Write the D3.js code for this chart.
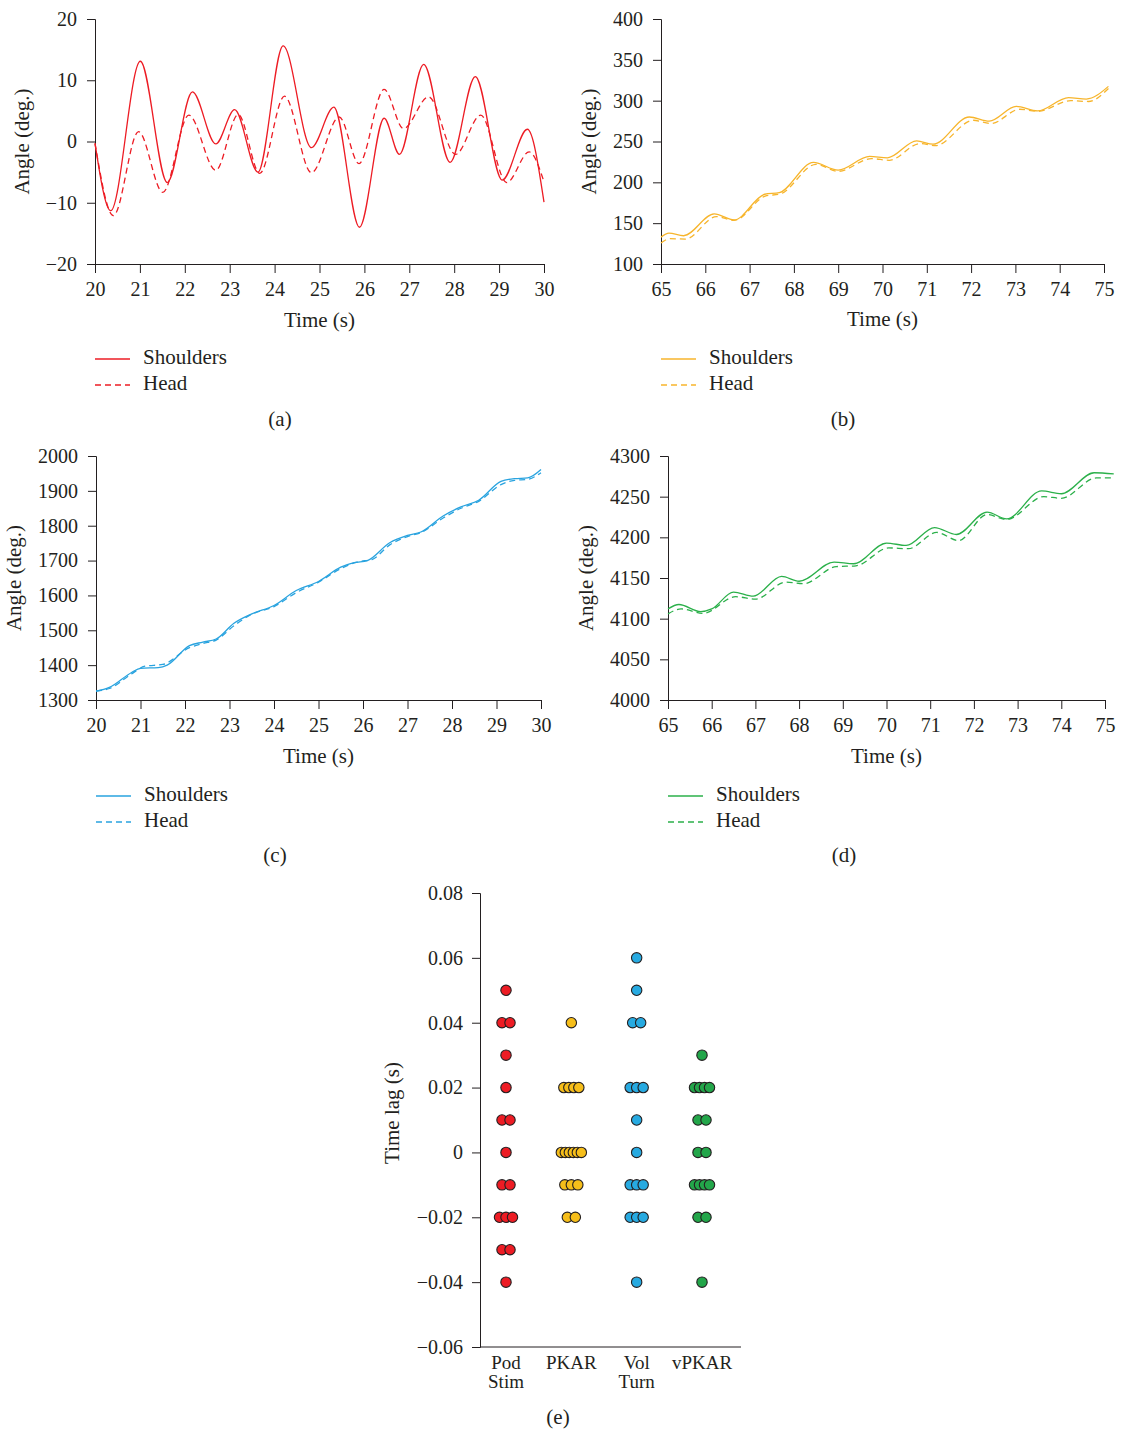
<!DOCTYPE html>
<html>
<head>
<meta charset="utf-8">
<script src="https://cdn.jsdelivr.net/npm/d3@7"></script>
<style>
  body { margin: 0; background: #fff; }
  svg { display: block; font-family: "Liberation Serif", "DejaVu Serif", serif; }
  .label { font-size: 21px; fill: #231f20; }
</style>
</head>
<body>
<svg id="chart" width="1125" height="1433"></svg>
<script>
// ---- panel (a): relative rotation, 20-30 s ----
const aShoulderT = [20, 20.35, 21.01, 21.61, 22.17, 22.69, 23.11, 23.63, 24.19, 24.82, 25.32, 25.89, 26.44, 26.78, 27.32, 27.91, 28.47, 29.07, 29.63, 30];
const aShoulderV = [-0.3, -11.3, 13.1, -6.7, 8.1, -0.4, 5.2, -5.0, 15.6, -1.0, 5.6, -14.0, 3.8, -2.1, 12.6, -3.4, 10.6, -6.3, 2.0, -9.9];
const aHeadT = [20, 20.41, 20.97, 21.51, 22.09, 22.69, 23.19, 23.67, 24.22, 24.82, 25.44, 25.88, 26.44, 26.87, 27.43, 28.03, 28.59, 29.17, 29.67, 30];
const aHeadV = [-0.3, -12.1, 1.6, -8.3, 4.3, -4.7, 4.4, -5.2, 7.4, -5.1, 4.0, -3.6, 8.5, 2.1, 7.3, -2.1, 4.3, -6.7, -1.7, -6.6];

// ---- panel (b): 65-75 s ----
const bShoulderT = [65, 65.18, 65.51, 66.2, 66.65, 67.34, 67.67, 68.44, 69.0, 69.71, 70.11, 70.77, 71.14, 71.96, 72.41, 73.02, 73.5, 74.2, 74.6, 75.1];
const bShoulderV = [132.9, 137.8, 134.6, 161.4, 154, 185.4, 187.4, 224.4, 215, 231.7, 230, 250.8, 246.7, 280, 275, 293, 287.4, 303.7, 302, 317.5];
const bHeadT = [65, 65.2, 65.55, 66.25, 66.65, 67.35, 67.7, 68.5, 69.0, 69.75, 70.15, 70.85, 71.2, 72.05, 72.45, 73.1, 73.5, 74.25, 74.65, 75.1];
const bHeadV = [125.6, 131, 130.5, 158, 153.5, 183, 186, 222, 213.5, 229, 227, 247.5, 245, 276, 272, 289.5, 287, 300, 299, 315];

// ---- panel (c): 20-30 s ----
const cShoulderT = [20, 20.3, 20.8, 21.0, 21.4, 21.6, 22.1, 22.4, 22.7, 23.1, 23.5, 24.0, 24.5, 25.0, 25.5, 25.8, 26.1, 26.6, 27.0, 27.3, 27.8, 28.2, 28.6, 29.1, 29.4, 29.7, 30];
const cShoulderV = [1325, 1336, 1379, 1391, 1393, 1400, 1456, 1466, 1475, 1520, 1547, 1571, 1614, 1640, 1681, 1694, 1700, 1751, 1772, 1782, 1828, 1854, 1873, 1927, 1935, 1937, 1961];
const cHeadT = [20, 20.3, 20.8, 21.1, 21.5, 22.1, 22.4, 22.7, 23.1, 23.5, 24.0, 24.5, 25.0, 25.5, 25.9, 26.2, 26.6, 27.0, 27.3, 27.8, 28.2, 28.6, 29.1, 29.4, 29.7, 30];
const cHeadV = [1326, 1333, 1375, 1397, 1402, 1450, 1462, 1472, 1513, 1546, 1568, 1608, 1638, 1677, 1697, 1703, 1745, 1769, 1780, 1822, 1850, 1870, 1918, 1930, 1933, 1952];

// ---- panel (d): 65-75 s ----
const dShoulderT = [65, 65.25, 65.75, 66.0, 66.5, 66.95, 67.6, 68.0, 68.8, 69.25, 70.0, 70.45, 71.1, 71.6, 72.3, 72.75, 73.55, 74.0, 74.75, 75.2];
const dShoulderV = [4112, 4117.4, 4108.7, 4112, 4132.6, 4127.6, 4152, 4146, 4169.6, 4167.5, 4193, 4190, 4212, 4203.5, 4231, 4222.8, 4257, 4253.6, 4279.4, 4278];
const dHeadT = [65, 65.3, 65.8, 66.55, 67.0, 67.7, 68.1, 68.85, 69.3, 70.05, 70.5, 71.15, 71.65, 72.3, 72.75, 73.6, 74.0, 74.8, 75.2];
const dHeadV = [4105.9, 4112, 4106.5, 4127, 4124, 4145, 4143, 4164, 4165, 4187, 4186, 4206, 4196, 4228, 4222, 4250, 4248, 4273, 4273];

const legendNames = ["Shoulders", "Head"];

// ---- panel (e): time lag per condition ----
const lagCategories = ["Pod Stim", "PKAR", "Vol Turn", "vPKAR"];
const lagPodStim = [0.05, 0.04, 0.04, 0.03, 0.02, 0.01, 0.01, 0, -0.01, -0.01, -0.02, -0.02, -0.02, -0.03, -0.03, -0.04];
const lagPkar = [0.04, 0.02, 0.02, 0.02, 0.02, 0, 0, 0, 0, 0, 0, -0.01, -0.01, -0.01, -0.02, -0.02];
const lagVolTurn = [0.06, 0.05, 0.04, 0.04, 0.02, 0.02, 0.02, 0.01, 0, -0.01, -0.01, -0.01, -0.02, -0.02, -0.02, -0.04];
const lagVpkar = [0.03, 0.02, 0.02, 0.02, 0.02, 0.01, 0.01, 0, 0, -0.01, -0.01, -0.01, -0.01, -0.02, -0.02, -0.04];
const lagTicks = [0.08, 0.06, 0.04, 0.02, 0, -0.02, -0.04, -0.06];

const svg = d3.select("#chart");
const ink = "#231f20";

const zip = (t, v) => t.map((x, i) => ({ x: x, y: v[i] }));

const panels = [
  { tag: "(a)", color: "#ed1c24", left: 95, right: 544, top: 19, bottom: 264,
    xDomain: [20, 30], yDomain: [-20, 20], yTicks: [-20, -10, 0, 10, 20],
    shoulders: zip(aShoulderT, aShoulderV), head: zip(aHeadT, aHeadV),
    ylabX: 24, xlabY: 322, legY: 359, tagX: 280, tagY: 421 },
  { tag: "(b)", color: "#f7b52c", left: 661, right: 1104, top: 19, bottom: 264,
    xDomain: [65, 75], yDomain: [100, 400], yTicks: d3.range(100, 401, 50),
    shoulders: zip(bShoulderT, bShoulderV), head: zip(bHeadT, bHeadV),
    ylabX: 591, xlabY: 321, legY: 359, tagX: 843, tagY: 421 },
  { tag: "(c)", color: "#29a3df", left: 96, right: 541, top: 456, bottom: 700,
    xDomain: [20, 30], yDomain: [1300, 2000], yTicks: d3.range(1300, 2001, 100),
    shoulders: zip(cShoulderT, cShoulderV), head: zip(cHeadT, cHeadV),
    ylabX: 16, xlabY: 758, legY: 796, tagX: 275, tagY: 857 },
  { tag: "(d)", color: "#2bb04a", left: 668, right: 1105, top: 456, bottom: 700,
    xDomain: [65, 75], yDomain: [4000, 4300], yTicks: d3.range(4000, 4301, 50),
    shoulders: zip(dShoulderT, dShoulderV), head: zip(dHeadT, dHeadV),
    ylabX: 588, xlabY: 758, legY: 796, tagX: 844, tagY: 857 }
];

function styleAxis(g) {
  g.attr("font-family", null).attr("font-size", null);
  g.selectAll("path, line").attr("stroke", ink).attr("stroke-width", 1);
  g.selectAll("text").attr("fill", ink).style("font-size", "20px");
}

panels.forEach(p => {
  const x = d3.scaleLinear().domain(p.xDomain).range([p.left, p.right]);
  const y = d3.scaleLinear().domain(p.yDomain).range([p.bottom, p.top]);
  const g = svg.append("g");

  g.append("g")
    .attr("transform", `translate(0,${p.bottom})`)
    .call(d3.axisBottom(x).tickValues(d3.range(p.xDomain[0], p.xDomain[1] + 1)).tickSizeOuter(0).tickSize(9).tickPadding(9).tickFormat(d3.format("d")))
    .call(styleAxis);

  g.append("g")
    .attr("transform", `translate(${p.left},0)`)
    .call(d3.axisLeft(y).tickValues(p.yTicks).tickSizeOuter(0).tickSize(8).tickPadding(10).tickFormat(d3.format("d")))
    .call(styleAxis);

  const line = d3.line().curve(d3.curveMonotoneX).x(d => x(d.x)).y(d => y(d.y));

  g.append("path").datum(p.shoulders)
    .attr("fill", "none").attr("stroke", p.color).attr("stroke-width", 1.3).attr("d", line);
  g.append("path").datum(p.head)
    .attr("fill", "none").attr("stroke", p.color).attr("stroke-width", 1.3)
    .attr("stroke-dasharray", "6,4").attr("d", line);

  g.append("text").attr("class", "label")
    .attr("transform", `translate(${p.ylabX},${(p.top + p.bottom) / 2}) rotate(-90)`)
    .attr("text-anchor", "middle").attr("dominant-baseline", "middle")
    .text("Angle (deg.)");

  g.append("text").attr("class", "label")
    .attr("x", (p.left + p.right) / 2).attr("y", p.xlabY)
    .attr("text-anchor", "middle").attr("dominant-baseline", "middle")
    .text("Time (s)");

  legendNames.forEach((name, i) => {
    const ly = p.legY + i * 26;
    g.append("line")
      .attr("x1", p.left).attr("x2", p.left + 35).attr("y1", ly).attr("y2", ly)
      .attr("stroke", p.color).attr("stroke-width", 1.3)
      .attr("stroke-dasharray", i === 1 ? "6,4" : null);
    g.append("text").attr("class", "label")
      .attr("x", p.left + 48).attr("y", ly)
      .attr("dominant-baseline", "middle")
      .text(name);
  });

  g.append("text").attr("class", "label")
    .attr("x", p.tagX).attr("y", p.tagY)
    .attr("text-anchor", "middle").attr("dominant-baseline", "middle")
    .text(p.tag);
});

// ---- panel (e) ----
const eLeft = 480, eRight = 741, eTop = 893, eBottom = 1347;
const lagGroups = [lagPodStim, lagPkar, lagVolTurn, lagVpkar];
const lagColors = ["#ed1c24", "#f6be1a", "#27aae1", "#23a64a"];

const ex = d3.scalePoint().domain(lagCategories).range([eLeft + 26, eRight - 39]);
const ey = d3.scaleLinear().domain([-0.06, 0.08]).range([eBottom, eTop]);
const ge = svg.append("g");

ge.append("g")
  .attr("transform", `translate(${eLeft},0)`)
  .call(d3.axisLeft(ey).tickValues(lagTicks).tickSizeOuter(0).tickSize(8).tickPadding(9).tickFormat(d3.format("~f")))
  .call(styleAxis);

ge.append("line")
  .attr("x1", eLeft).attr("x2", eRight).attr("y1", eBottom).attr("y2", eBottom)
  .attr("stroke", ink).attr("stroke-width", 1);

// spread equal values side by side, tighter when more of them
const dots = [];
lagGroups.forEach((vals, gi) => {
  const counts = d3.rollup(vals, v => v.length, v => v);
  const seen = new Map();
  vals.forEach(v => {
    const n = counts.get(v);
    const k = seen.get(v) || 0;
    seen.set(v, k + 1);
    const step = n > 1 ? Math.max(4, 9.5 - 1.5 * (n - 1)) : 0;
    dots.push({ cat: lagCategories[gi], v: v, off: (k - (n - 1) / 2) * step, color: lagColors[gi] });
  });
});

ge.selectAll("circle").data(dots).join("circle")
  .attr("cx", d => ex(d.cat) + d.off)
  .attr("cy", d => ey(d.v))
  .attr("r", 5.2)
  .attr("fill", d => d.color)
  .attr("stroke", ink).attr("stroke-width", 1.1);

lagCategories.forEach(c => {
  const words = c.split(" ");
  words.forEach((w, i) => {
    ge.append("text").attr("class", "label")
      .attr("x", ex(c)).attr("y", eBottom + 18 + i * 19)
      .attr("text-anchor", "middle").attr("dominant-baseline", "middle")
      .style("font-size", "19px")
      .text(w);
  });
});

ge.append("text").attr("class", "label")
  .attr("transform", `translate(394,${(eTop + eBottom) / 2 - 7}) rotate(-90)`)
  .attr("text-anchor", "middle").attr("dominant-baseline", "middle")
  .text("Time lag (s)");

ge.append("text").attr("class", "label")
  .attr("x", 558).attr("y", 1419)
  .attr("text-anchor", "middle").attr("dominant-baseline", "middle")
  .text("(e)");
</script>
</body>
</html>
